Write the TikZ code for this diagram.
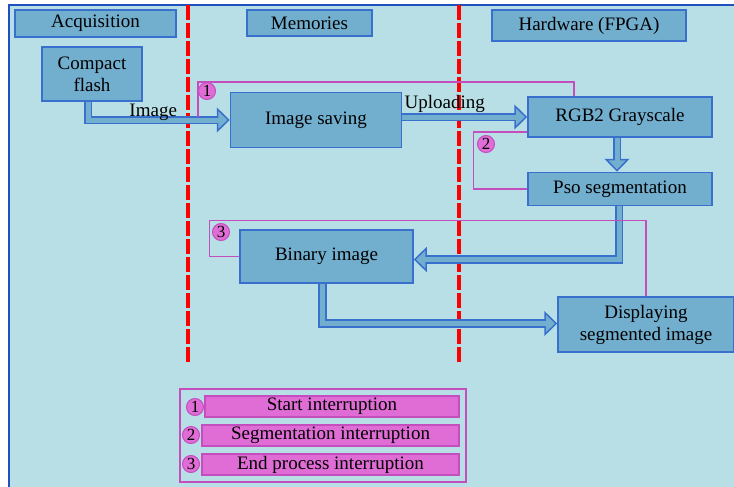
\documentclass[tikz,border=0pt]{standalone}
\usepackage{fontspec}
\setmainfont{Liberation Serif}
\usepackage{xcolor}
\usetikzlibrary{arrows.meta,positioning}

\definecolor{bgcyan}{RGB}{183,223,229}
\definecolor{frameblue}{RGB}{30,80,190}
\definecolor{boxfill}{RGB}{114,174,206}
\definecolor{boxline}{RGB}{58,112,205}
\definecolor{irqline}{RGB}{196,78,190}
\definecolor{irqfill}{RGB}{224,108,214}

\begin{document}
\begin{tikzpicture}[
  x=1pt, y=-1pt,
  font=\fontsize{19}{22}\selectfont,
  box/.style={draw=boxline, fill=boxfill, line width=1.5pt, align=center, inner sep=2pt},
  lane/.style={box, line width=1.8pt},
  irq/.style={circle, draw=irqline, fill=irqfill, line width=1pt, inner sep=0pt, minimum size=17pt, font=\fontsize{17}{17}\selectfont},
  irqbar/.style={draw=irqline, fill=irqfill, line width=1.5pt, minimum height=21pt, inner sep=0pt},
  flow/.style={draw=boxline, line width=8.4pt, -{Triangle[length=13pt 0 0, width=25pt 0 0, fill=boxfill, line width=1.5pt 0 0]},
    postaction={draw=boxfill, line width=5pt, -, shorten >=6pt}},
  irqpath/.style={draw=irqline, line width=1.3pt},
  sep/.style={red, line width=3.5pt, dash pattern=on 15pt off 3pt}
]
\useasboundingbox (0,0) rectangle (734,487);
% background, frame and lane separators
\fill[bgcyan] (9,5) rectangle (740,492);
\draw[frameblue, line width=2pt] (9,492) -- (9,5) -- (740,5);
\draw[sep] (188,5) -- (188,362);
\draw[sep] (459,5) -- (459,362);

% lane titles
\node[lane, minimum width=161pt, minimum height=27pt] (acq) at (95.5,23.5) {Acquisition};
\node[lane, minimum width=125pt, minimum height=26pt] (mem) at (309.5,23) {Memories};
\node[lane, minimum width=194pt, minimum height=31pt] (hw) at (589,25.5) {Hardware (FPGA)};

% processing steps
\node[box, minimum width=100pt, minimum height=54pt] (flash) at (92,74) {Compact\\flash};
\node[box, minimum width=171pt, minimum height=55pt] (saving) at (316,120) {Image saving};
\node[box, minimum width=184pt, minimum height=40pt] (rgb) at (620,117) {RGB2 Grayscale};
\node[box, minimum width=184pt, minimum height=33pt, below=34pt of rgb] (pso) {Pso segmentation};
\node[box, minimum width=173pt, minimum height=53pt] (binary) at (326.5,256.5) {Binary image};
\node[box, minimum width=176pt, minimum height=55pt] (disp) at (646,324.5) {Displaying\\segmented image};

% data flow
\draw[flow] ([xshift=-4pt]flash.south) |- node[pos=0.73, anchor=base, yshift=4pt] {Image} (saving);
\draw[flow] (saving.east |- rgb) -- node[pos=0.34, anchor=base, yshift=9pt] {Uploading} (rgb.west);
\draw[flow] ([xshift=-3pt]rgb.south) -- ([xshift=-3pt]pso.north);
\draw[flow] ([xshift=-1pt]pso.south) |- ([yshift=-3pt]binary.east);
\draw[flow] ([xshift=-4pt]binary.south) |- ([yshift=1pt]disp.west);

% interrupts
\coordinate (irqstart) at (198,117);
\draw[irqpath] (irqstart) -- ++(0,-35) -| ([xshift=-46pt]rgb.north);
\draw[irqpath] ([yshift=-15pt]rgb.west) -- ++(-54,0) |- (pso.west);
\draw[irqpath] (binary.west) -- ++(-30,0) -- ++(0,-36) -| (disp.north);
\node[irq] (n1) at (207,91) {1};
\node[irq] (n2) at (486,144) {2};
\node[irq] (n3) at (221,232) {3};

% legend
\node[draw=irqline, line width=1.5pt, minimum width=286pt, minimum height=93pt, inner sep=0pt] (legend) at (323,435.5) {};
\node[irqbar, minimum width=254pt] (leg1) at (332,406.5) {Start interruption};
\node[irqbar, minimum width=257pt] (leg2) at (330.5,435.5) {Segmentation interruption};
\node[irqbar, minimum width=257pt] (leg3) at (330.5,464.5) {End process interruption};
\node[irq] (l1) at (195,407) {1};
\node[irq] (l2) at (191,435) {2};
\node[irq] (l3) at (191,464) {3};
\end{tikzpicture}
\end{document}
